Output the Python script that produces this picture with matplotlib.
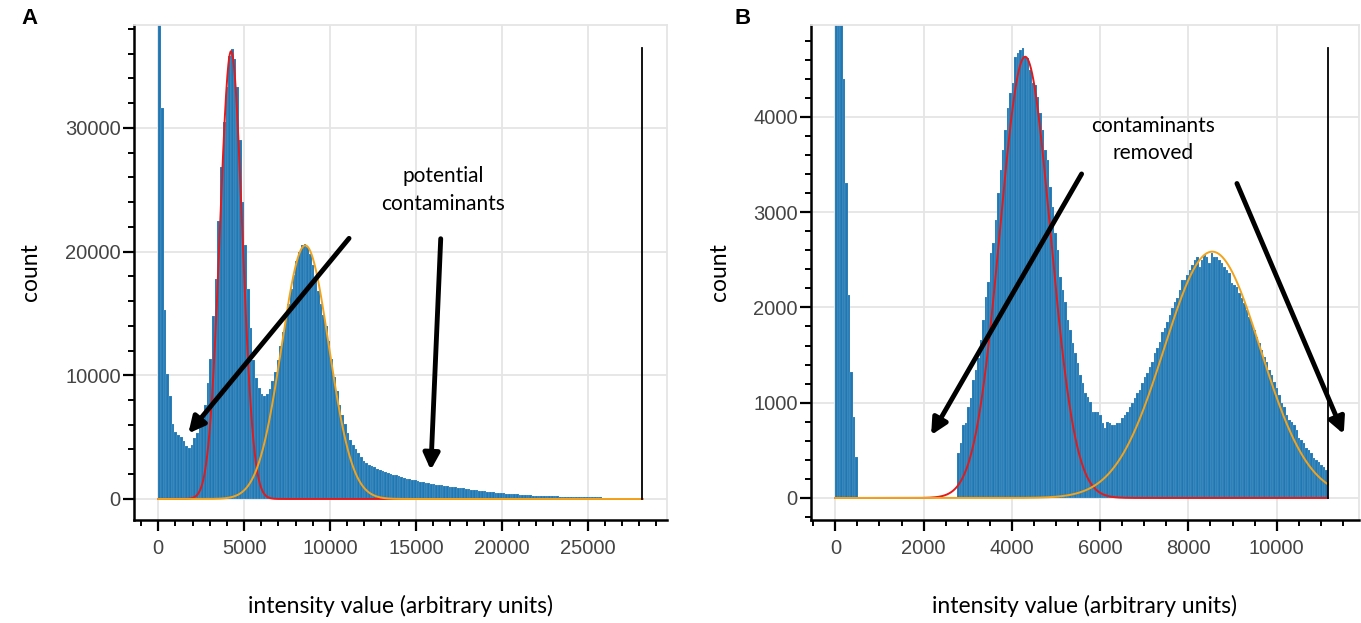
import numpy as np
import matplotlib.pyplot as plt
from matplotlib.ticker import MultipleLocator

# ---- data ----
# panel A: 180 bins from 0 to 28200
counts_a = [60000, 31600, 15300, 10100, 8300, 6100, 5400, 5200, 5000, 4700,
            4300, 4150, 4400, 4900, 5300, 5700, 6600, 7600, 9400, 11300,
            14800, 17800, 22500, 26800, 30500, 33300, 35800, 36400, 35600, 33300,
            29000, 24000, 20500, 17000, 13800, 11200, 9800, 9000, 8500, 8300,
            8500, 8900, 9500, 10300, 11200, 12400, 13500, 14600, 15800, 17000,
            18100, 19200, 20000, 20500, 20600, 20400, 19800, 18900, 17900, 16800,
            15800, 14900, 14000, 12800, 11300, 9900, 8700, 7600, 6800, 6100,
            5300, 4800, 4400, 4000, 3700, 3400, 3100, 2900, 2750, 2650,
            2550, 2450, 2350, 2250, 2200, 2100, 2000, 1950, 1900, 1820,
            1750, 1700, 1650, 1600, 1550, 1500, 1450, 1400, 1360, 1320,
            1280, 1240, 1200, 1170, 1140, 1100, 1070, 1040, 1000, 970,
            940, 910, 880, 850, 820, 790, 760, 730, 700, 680,
            650, 620, 600, 570, 550, 520, 500, 480, 460, 440,
            420, 400, 380, 365, 350, 335, 320, 305, 290, 280,
            270, 260, 250, 240, 230, 220, 210, 205, 200, 195,
            190, 185, 180, 175, 170, 165, 160, 155, 150, 145,
            140, 135, 130, 125, 120, 118, 115, 112, 110, 107,
            104, 100, 97, 94, 90, 87, 84, 80, 77, 74]
end_a = 28200

# panel B: 198 bins from 0 to 11160
counts_b = ([7000, 7000, 7000, 4400, 3300, 2130, 1325, 853, 433] + [0] * 40 +
            [469, 574, 766, 783, 958, 1046, 1238, 1343, 1466, 1658,
             1868, 2113, 2270, 2568, 2672, 2917, 3197, 3442, 3652, 3862,
             4089, 4246, 4351, 4631, 4666, 4701, 4719, 4631, 4614, 4491,
             4351, 4334, 4211, 4036, 3862, 3652, 3547, 3267, 3058, 2778,
             2599, 2320, 2182, 2060, 1868, 1763, 1623, 1518, 1413, 1291,
             1203, 1098, 1064, 1011, 906, 906, 906, 871, 784, 731,
             801, 784, 770, 770, 784, 784, 836, 871, 906, 958,
             992, 1045, 1098, 1133, 1203, 1273, 1308, 1378, 1430, 1518,
             1570, 1640, 1745, 1780, 1850, 1920, 1990, 2060, 2095, 2182,
             2287, 2287, 2340, 2392, 2445, 2497, 2532, 2427, 2497, 2549,
             2532, 2462, 2574, 2532, 2532, 2497, 2462, 2427, 2392, 2357,
             2252, 2235, 2217, 2147, 2095, 2042, 1972, 1902, 1833, 1763,
             1693, 1623, 1553, 1483, 1430, 1343, 1291, 1221, 1151, 1081,
             992, 958, 871, 819, 801, 766, 714, 626, 609, 574,
             522, 504, 469, 416, 399, 382, 347, 322, 294])
end_b = 11160

# gaussian fits (mean, sd, height)
fit_a = {'red': (4240, 645, 36200), 'orange': (8560, 1370, 20500)}
fit_b = {'red': (4300, 570, 4630), 'orange': (8540, 1090, 2585)}
cutoff_height_a = 36450
cutoff_height_b = 4720

W, H = 1361, 623
fig = plt.figure(figsize=(W / 100, H / 100), dpi=100)

blue = '#1f77b4'
line_col = {'red': '#e31a1c', 'orange': '#f2a31b'}
grid_col = '#e5e5e5'
note_font = 'Lato'
tick_font = 'Liberation Sans'


def panel(ax, counts, end, fits, cut_h, xlim, ylim, xmaj, xmin, ymaj, ymin):
    counts = np.array(counts, dtype=float)
    edges = np.linspace(0, end, len(counts) + 1)
    ax.bar(edges[:-1], counts, width=np.diff(edges), align='edge', color=blue,
           edgecolor=(1, 1, 1, 0.3), linewidth=0.3, zorder=2)
    xs = np.linspace(0, end, 1500)
    for name, (mu, sd, h) in fits.items():
        ax.plot(xs, h * np.exp(-0.5 * ((xs - mu) / sd) ** 2), color=line_col[name],
                lw=1.4, zorder=3)
    ax.plot([end, end], [0, cut_h], color='black', lw=1.3, zorder=4)
    ax.set_xlim(*xlim)
    ax.set_ylim(*ylim)
    ax.xaxis.set_major_locator(MultipleLocator(xmaj))
    ax.xaxis.set_minor_locator(MultipleLocator(xmin))
    ax.yaxis.set_major_locator(MultipleLocator(ymaj))
    ax.yaxis.set_minor_locator(MultipleLocator(ymin))
    ax.grid(True, which='major', color=grid_col, lw=1.3, zorder=0)
    ax.set_axisbelow(True)
    for s in ['top', 'right']:
        ax.spines[s].set_color(grid_col)
        ax.spines[s].set_linewidth(1.3)
    for s in ['left', 'bottom']:
        ax.spines[s].set_color('black')
        ax.spines[s].set_linewidth(1.8)
    ax.tick_params(which='major', direction='out', length=8, width=1.6,
                   labelsize=14.5, labelcolor='#444444')
    ax.tick_params(which='minor', direction='out', length=4.5, width=1.4)
    ax.tick_params(axis='x', which='major', pad=6)
    ax.tick_params(axis='y', which='major', pad=1.5)
    for lab in ax.get_xticklabels() + ax.get_yticklabels():
        lab.set_family(tick_font)
    ax.set_ylabel('count', fontsize=16.5, family=note_font, labelpad=17)
    ax.set_xlabel('intensity value (arbitrary units)', fontsize=16.5,
                  family=note_font, labelpad=26)


axA = fig.add_axes([134 / W, 1 - 520 / H, (667 - 134) / W, (520 - 25) / H])
panel(axA, counts_a, end_a, fit_a, cutoff_height_a, (-1415, 29630), (-1700, 38320),
      5000, 1000, 10000, 2000)
axB = fig.add_axes([811 / W, 1 - 520 / H, (1359 - 811) / W, (520 - 25) / H])
panel(axB, counts_b, end_b, fit_b, cutoff_height_b, (-552, 11866), (-231, 4963),
      2000, 500, 1000, 200)

arrow = dict(arrowstyle='-|>', lw=3.5, color='black', mutation_scale=24,
             shrinkA=0, shrinkB=0)
axA.annotate('', xy=(1750, 5300), xytext=(11110, 21070), arrowprops=arrow, zorder=5)
axA.annotate('', xy=(15870, 2340), xytext=(16450, 21040), arrowprops=arrow, zorder=5)
axA.text(16580, 24980, 'potential\ncontaminants', ha='center', va='center',
         fontsize=15, family=note_font, linespacing=1.45)

axB.annotate('', xy=(2170, 660), xytext=(5580, 3400), arrowprops=arrow, zorder=5)
axB.annotate('', xy=(11520, 670), xytext=(9100, 3300), arrowprops=arrow, zorder=5)
axB.text(7190, 3760, 'contaminants\nremoved', ha='center', va='center',
         fontsize=15, family=note_font, linespacing=1.45)

fig.text(21 / W, 1 - 18 / H, 'A', fontsize=16, fontweight='bold', va='center',
         family=tick_font)
fig.text(735 / W, 1 - 18 / H, 'B', fontsize=16, fontweight='bold', va='center',
         family=tick_font)

fig.savefig('out.png', dpi=100)
